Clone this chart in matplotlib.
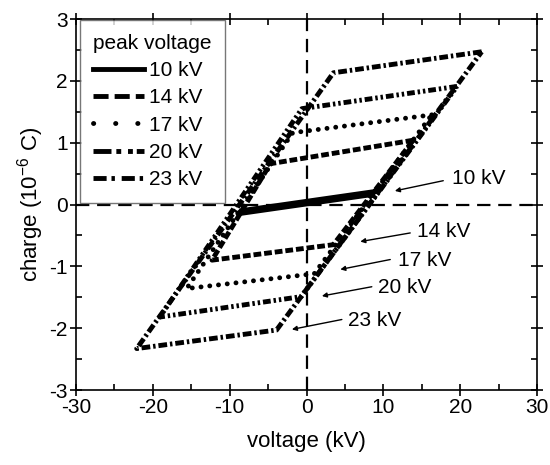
import matplotlib
matplotlib.use("Agg")
import matplotlib.pyplot as plt
from matplotlib.lines import Line2D
import numpy as np

plt.rcParams['font.family'] = ['Liberation Sans', 'DejaVu Sans']
plt.rcParams['mathtext.fontset'] = 'custom'
plt.rcParams['mathtext.rm'] = 'Liberation Sans'
plt.rcParams['mathtext.it'] = 'Liberation Sans:italic'
plt.rcParams['mathtext.default'] = 'regular'
plt.rcParams['axes.unicode_minus'] = False

# ---- data: loop corner points (voltage in kV, charge in 1e-6 C) ----
# order of corners: top-right, top-left, bottom-left, bottom-right
labels = ['10 kV', '14 kV', '17 kV', '20 kV', '23 kV']
v_10 = [8.9, -8.5, -8.9, 8.5]
q_10 = [0.21, -0.10, -0.15, 0.16]
v_14 = [13.9, -4.7, -12.3, 3.5]
q_14 = [1.04, 0.66, -0.90, -0.65]
v_17 = [16.3, -1.8, -15.6, 1.0]
q_17 = [1.45, 1.16, -1.36, -1.12]
v_20 = [19.6, -0.6, -19.1, -0.7]
q_20 = [1.91, 1.55, -1.82, -1.49]
v_23 = [22.8, 3.5, -22.1, -3.9]
q_23 = [2.47, 2.13, -2.33, -2.03]

volts = [v_10, v_14, v_17, v_20, v_23]
charges = [q_10, q_14, q_17, q_20, q_23]

# annotation arrows: label text position and arrow head (kV, 1e-6 C)
ann_text_v = [18.9, 14.4, 11.9, 9.3, 5.4]
ann_text_q = [0.42, -0.44, -0.90, -1.34, -1.88]
ann_tail_v = [17.8, 13.5, 10.9, 8.5, 4.6]
ann_tail_q = [0.385, -0.46, -0.89, -1.33, -1.86]
ann_head_v = [11.5, 7.0, 4.4, 2.0, -1.9]
ann_head_q = [0.22, -0.60, -1.05, -1.48, -2.02]

LW = 3.5
plot_styles = [
    dict(linestyle='-'),
    dict(linestyle=(0, (1.6, 0.6))),
    dict(linestyle=(0, (0.01, 1.8)), dash_capstyle='round'),
    dict(linestyle=(0, (1.6, 0.6, 0.5, 0.6, 0.5, 0.6))),
    dict(linestyle=(0, (1.8, 0.6, 0.5, 0.6))),
]
legend_styles = [
    dict(linestyle='-'),
    dict(linestyle=(0, (3.1, 1.25))),
    dict(linestyle=(0, (0.05, 4.5)), dash_capstyle='round'),
    dict(linestyle=(0, (3.7, 1.0, 1.0, 1.4, 1.0, 0.8))),
    dict(linestyle=(0, (2.7, 1.0, 0.7, 1.4))),
]

fig = plt.figure(figsize=(5.5, 4.65), dpi=100)
ax = fig.add_axes([76/550, 1-390/465, (537-76)/550, (390-19)/465])

# reference lines
ax.axhline(0, color='black', lw=1.6, dashes=(6, 3.5), zorder=1)
ax.axvline(0, color='black', lw=1.6, dashes=(6, 3.5), zorder=1)

for v, q, st in zip(volts, charges, plot_styles):
    vv = list(v) + [v[0]]
    qq = list(q) + [q[0]]
    ax.plot(vv, qq, color='black', lw=LW, solid_joinstyle='round', **st)

for tv, tq, av, aq, hv, hq, lab in zip(ann_text_v, ann_text_q, ann_tail_v, ann_tail_q,
                                        ann_head_v, ann_head_q, labels):
    ax.annotate('', xy=(hv, hq), xytext=(av, aq),
                arrowprops=dict(arrowstyle='-|>', color='black', lw=1.0,
                                mutation_scale=7, shrinkA=0, shrinkB=0))
    ax.text(tv, tq, lab, fontsize=15, ha='left', va='center')

ax.set_xlim(-30, 30)
ax.set_ylim(-3, 3)
ax.set_xticks([-30, -20, -10, 0, 10, 20, 30])
ax.set_yticks([-3, -2, -1, 0, 1, 2, 3])
ax.set_xticks(np.arange(-25, 30, 10), minor=True)
ax.set_yticks(np.arange(-2.5, 3, 1), minor=True)
ax.tick_params(which='major', direction='inout', length=8, width=1.2,
               top=True, right=True, labelsize=15, pad=2)
ax.tick_params(which='minor', direction='in', length=4, width=1.2,
               top=True, right=True)
for s in ax.spines.values():
    s.set_linewidth(1.2)

ax.set_xlabel('voltage (kV)', fontsize=16, labelpad=10)
ax.set_ylabel('charge (10$^{-6}$ C)', fontsize=16, labelpad=2)

handles = [Line2D([], [], color='black', lw=LW, **st) for st in legend_styles]
leg = ax.legend(handles, labels, title='peak voltage', loc='upper left',
                bbox_to_anchor=(0.008, 0.997), alignment='left',
                fontsize=15, title_fontsize=15, frameon=True, fancybox=False,
                handlelength=2.45, handletextpad=0.25, labelspacing=0.4,
                borderpad=0.65, borderaxespad=0)
leg.get_frame().set_edgecolor('#555555')
leg.get_frame().set_linewidth(1.0)

fig.savefig('out.png', dpi=100)
